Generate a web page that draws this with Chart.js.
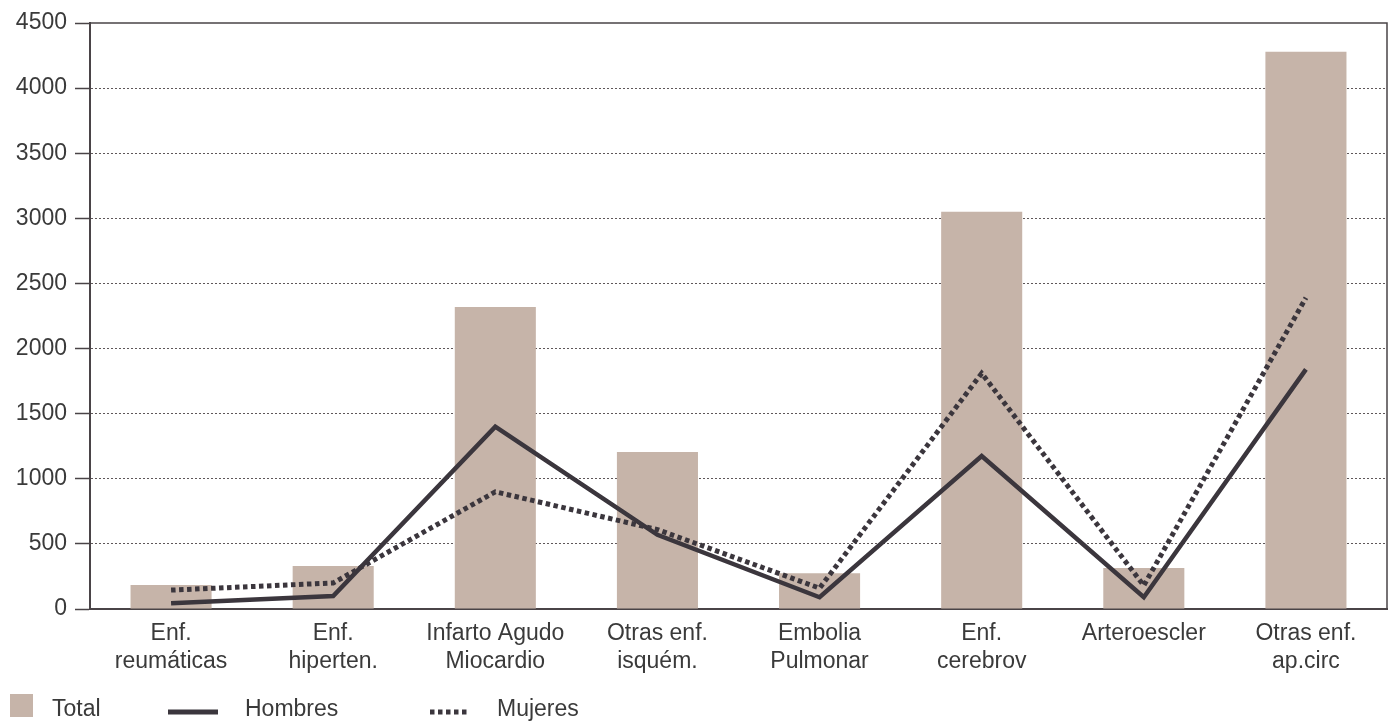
<!DOCTYPE html>
<html>
<head>
<meta charset="utf-8">
<script src="https://cdn.jsdelivr.net/npm/chart.js@4/dist/chart.umd.min.js"></script>
<style>
  html, body { margin: 0; padding: 0; background: #ffffff; }
  #wrap { width: 1397px; height: 725px; position: relative; }
</style>
</head>
<body>
<div id="wrap"><canvas id="c" width="1397" height="725"></canvas></div>
<script>
const categories = [
  ['Enf.', 'reumáticas'],
  ['Enf.', 'hiperten.'],
  ['Infarto Agudo', 'Miocardio'],
  ['Otras enf.', 'isquém.'],
  ['Embolia', 'Pulmonar'],
  ['Enf.', 'cerebrov'],
  ['Arteroescler'],
  ['Otras enf.', 'ap.circ']
];
const totalValues   = [185, 330, 2320, 1205, 275, 3050, 315, 4280];
const hombresValues = [45, 100, 1400, 570, 90, 1175, 90, 1840];
const mujeresValues = [145, 200, 900, 610, 160, 1810, 180, 2390];
const yTicks = [0, 500, 1000, 1500, 2000, 2500, 3000, 3500, 4000, 4500];
const seriesNames = ['Total', 'Hombres', 'Mujeres'];

const FONT = '"Liberation Sans", Arial, Helvetica, sans-serif';
const INK = '#3b363d';
const TAN = '#c6b4a9';
const MUJERES_DASH = [4.5, 3.5];

const framePlugin = {
  id: 'frame',
  afterDraw(chart) {
    const { ctx, chartArea: a } = chart;
    ctx.save();
    ctx.strokeStyle = '#4a4447';
    ctx.lineWidth = 1.5;
    ctx.beginPath();
    ctx.moveTo(a.left, a.top);
    ctx.lineTo(a.right, a.top);
    ctx.lineTo(a.right, a.bottom);
    ctx.stroke();
    ctx.restore();
  }
};

const legendPlugin = {
  id: 'customLegend',
  afterDraw(chart) {
    const ctx = chart.ctx;
    const find = (name) => chart.data.datasets.find(d => d.label === name);
    const dTotal = find(seriesNames[0]);
    const dH = find(seriesNames[1]);
    const dM = find(seriesNames[2]);
    ctx.save();
    ctx.font = '23px ' + FONT;
    ctx.textBaseline = 'alphabetic';
    // Total (box)
    ctx.fillStyle = dTotal.backgroundColor;
    ctx.fillRect(10, 694, 23, 23);
    ctx.fillStyle = '#3a3a3a';
    ctx.fillText(dTotal.label, 52, 716);
    // Hombres (solid line)
    ctx.strokeStyle = dH.borderColor;
    ctx.lineWidth = 5;
    ctx.beginPath();
    ctx.moveTo(168, 712);
    ctx.lineTo(218, 712);
    ctx.stroke();
    ctx.fillText(dH.label, 245, 716);
    // Mujeres (dotted)
    ctx.strokeStyle = dM.borderColor;
    ctx.setLineDash(MUJERES_DASH);
    ctx.lineWidth = 5;
    ctx.beginPath();
    ctx.moveTo(430, 712);
    ctx.lineTo(470, 712);
    ctx.stroke();
    ctx.setLineDash([]);
    ctx.fillText(dM.label, 497, 716);
    ctx.restore();
  }
};

new Chart(document.getElementById('c'), {
  type: 'bar',
  data: {
    labels: categories,
    datasets: [
      {
        type: 'bar',
        label: seriesNames[0],
        data: totalValues,
        backgroundColor: TAN,
        borderWidth: 0,
        categoryPercentage: 1,
        barPercentage: 0.5,
        order: 2
      },
      {
        type: 'line',
        label: seriesNames[1],
        data: hombresValues,
        borderColor: INK,
        backgroundColor: INK,
        borderWidth: 4.5,
        pointRadius: 0,
        tension: 0,
        order: 1
      },
      {
        type: 'line',
        label: seriesNames[2],
        data: mujeresValues,
        borderColor: INK,
        backgroundColor: INK,
        borderWidth: 5,
        borderDash: MUJERES_DASH,
        borderCapStyle: 'butt',
        pointRadius: 0,
        tension: 0,
        order: 0
      }
    ]
  },
  options: {
    responsive: false,
    devicePixelRatio: 1,
    animation: false,
    layout: { padding: { top: 23, right: 10, left: 0, bottom: 0 } },
    plugins: {
      legend: { display: false },
      tooltip: { enabled: false }
    },
    scales: {
      x: {
        grid: { display: false, drawTicks: false },
        border: { display: true, color: '#4a4447', width: 2 },
        ticks: {
          color: '#3a3a3a',
          font: { family: FONT, size: 23, lineHeight: 1.25 },
          padding: 10,
          maxRotation: 0,
          autoSkip: false
        },
        afterFit(s) { s.height = 116; }
      },
      y: {
        min: 0,
        max: 4500,
        afterBuildTicks(s) { s.ticks = yTicks.map(v => ({ value: v })); },
        grid: {
          color: (c) => (c.tick && (c.tick.value === 0 || c.tick.value === 4500)) ? 'rgba(0,0,0,0)' : '#5e5759',
          lineWidth: 1,
          drawTicks: true,
          tickLength: 15,
          tickColor: '#4a4447',
          tickWidth: 1.5,
          tickBorderDash: []
        },
        border: { display: true, color: '#4a4447', width: 2, dash: [2, 2] },
        ticks: {
          color: '#3a3a3a',
          font: { family: FONT, size: 23 },
          padding: 8,
          callback: (v) => String(v)
        },
        afterFit(s) { s.width = 90; }
      }
    }
  },
  plugins: [framePlugin, legendPlugin]
});
</script>
</body>
</html>
